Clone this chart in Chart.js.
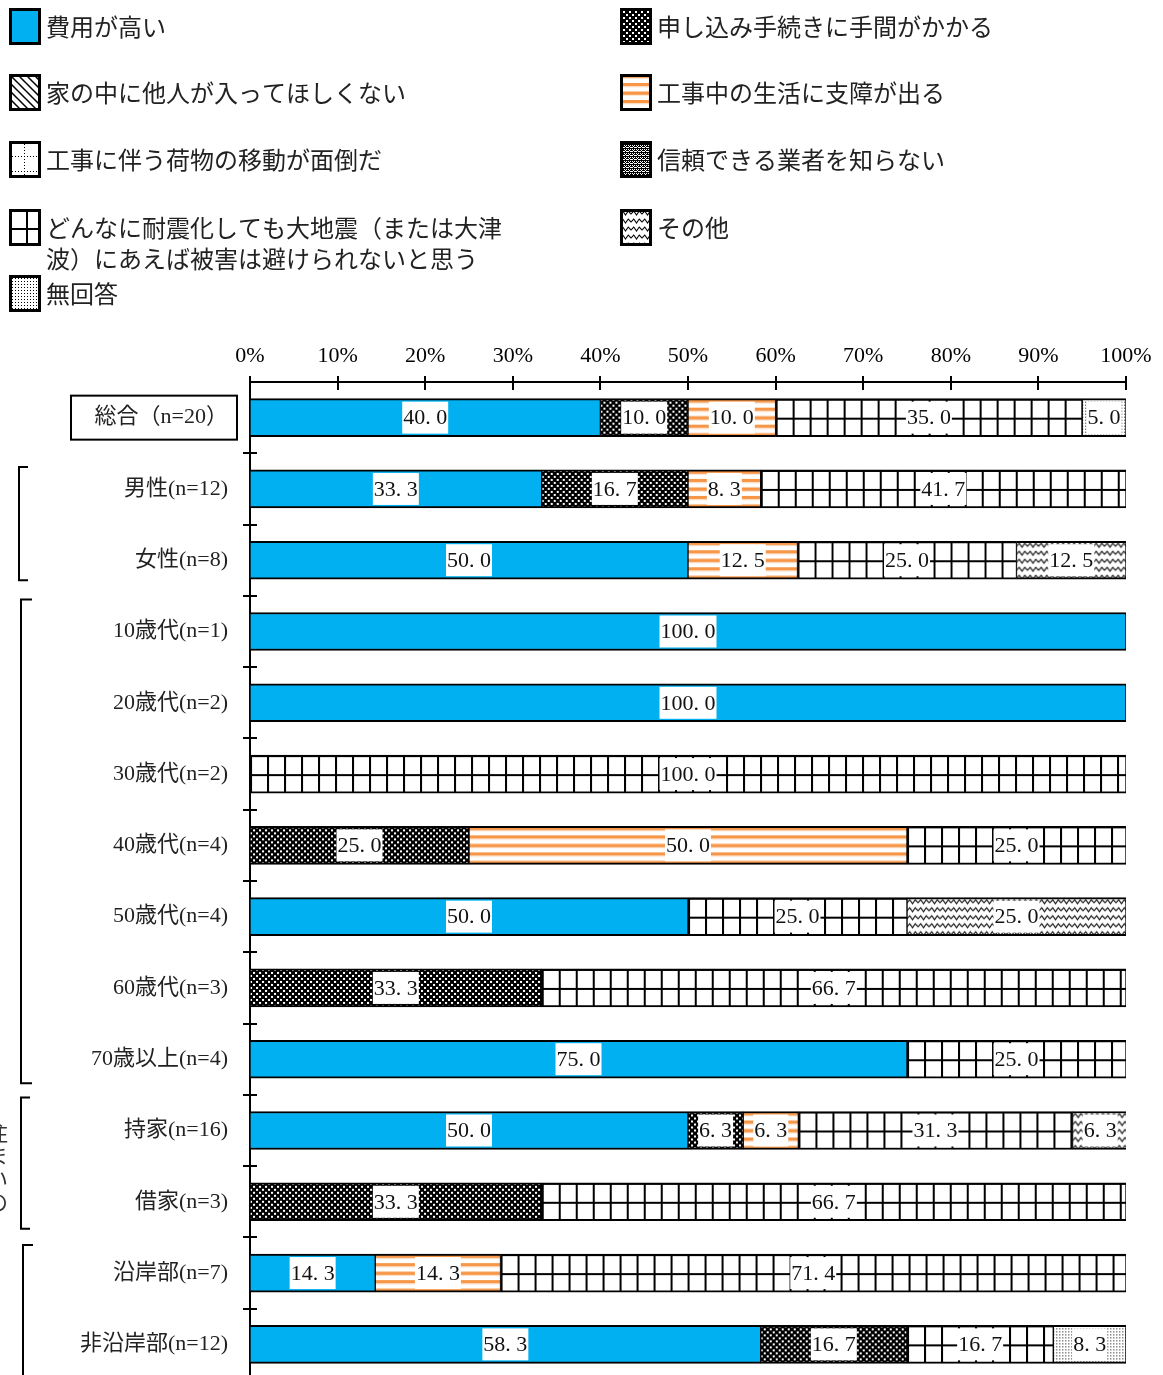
<!DOCTYPE html>
<html lang="ja">
<head>
<meta charset="utf-8">
<title>耐震化を行わない理由</title>
<script src="https://cdn.jsdelivr.net/npm/chart.js@4.4.1/dist/chart.umd.min.js"></script>
<style>
  html, body { margin: 0; padding: 0; background: #fff; overflow: hidden; }
</style>
</head>
<body>
<canvas id="chart" width="1163" height="1381"></canvas>
<script>
// Categories (rows, top to bottom)
const categories = ['総合（n=20）', '男性(n=12)', '女性(n=8)', '10歳代(n=1)', '20歳代(n=2)', '30歳代(n=2)',
  '40歳代(n=4)', '50歳代(n=4)', '60歳代(n=3)', '70歳以上(n=4)', '持家(n=16)', '借家(n=3)',
  '沿岸部(n=7)', '非沿岸部(n=12)'];

const seriesNames = ['費用が高い', '申し込み手続きに手間がかかる', '家の中に他人が入ってほしくない',
  '工事中の生活に支障が出る', '工事に伴う荷物の移動が面倒だ', '信頼できる業者を知らない',
  'どんなに耐震化しても大地震（または大津波）にあえば被害は避けられないと思う', 'その他', '無回答'];

// Values in % per category
const highCost        = [40.0, 33.3, 50.0, 100.0, 100.0, 0, 0, 50.0, 0, 75.0, 50.0, 0, 14.3, 58.3];
const troublesome     = [10.0, 16.7, 0, 0, 0, 0, 25.0, 0, 33.3, 0, 6.3, 33.3, 0, 16.7];
const noStrangers     = [0, 0, 0, 0, 0, 0, 0, 0, 0, 0, 0, 0, 0, 0];
const lifeDisruption  = [10.0, 8.3, 12.5, 0, 0, 0, 50.0, 0, 0, 0, 6.3, 0, 14.3, 0];
const movingStuff     = [0, 0, 0, 0, 0, 0, 0, 0, 0, 0, 0, 0, 0, 0];
const noContractor    = [0, 0, 0, 0, 0, 0, 0, 0, 0, 0, 0, 0, 0, 0];
const unavoidable     = [35.0, 41.7, 25.0, 0, 0, 100.0, 25.0, 25.0, 66.7, 25.0, 31.3, 66.7, 71.4, 16.7];
const other           = [0, 0, 12.5, 0, 0, 0, 0, 25.0, 0, 0, 6.3, 0, 0, 0];
const noAnswer        = [5.0, 0, 0, 0, 0, 0, 0, 0, 0, 0, 0, 0, 0, 8.3];

const xTicks = [0, 10, 20, 30, 40, 50, 60, 70, 80, 90, 100];

// category groups shown with brackets on the left: [first, last]
const groups = [[1, 2], [3, 9], [10, 11], [12, 13]];

const allSeries = [highCost, troublesome, noStrangers, lifeDisruption, movingStuff,
  noContractor, unavoidable, other, noAnswer];

const BLUE = '#00B0F0';
const ORANGE = '#F79646';
const BAR = 38;
const FONT = '"Liberation Serif", "Noto Sans CJK JP", serif';

// pattern tiles
function tile(w, h, draw) {
  const c = document.createElement('canvas');
  c.width = w; c.height = h;
  const g = c.getContext('2d');
  g.fillStyle = '#fff';
  g.fillRect(0, 0, w, h);
  draw(g);
  return c;
}

const tiles = [
  null,
  // 申し込み: black with white specks
  tile(6, 6, g => {
    g.fillStyle = '#000'; g.fillRect(0, 0, 6, 6);
    g.fillStyle = '#fff';
    g.fillRect(0, 0, 2, 2);
    g.fillRect(3, 3, 2, 2);
  }),
  // 家の中: diagonal lines
  tile(8, 8, g => {
    g.strokeStyle = '#000'; g.lineWidth = 1.5;
    g.beginPath();
    for (let o = -8; o <= 8; o += 8) { g.moveTo(o - 1, -1); g.lineTo(o + 9, 9); }
    g.stroke();
  }),
  // 工事中: orange stripes
  tile(4, 17, g => {
    g.fillStyle = ORANGE;
    g.fillRect(0, 0.5, 4, 3.4);
    g.fillRect(0, 9, 4, 3.4);
    g.fillStyle = '#FCE4D0';
    g.fillRect(0, 3.9, 4, 1);
    g.fillRect(0, 12.4, 4, 1);
  }),
  // 荷物の移動: dotted grid
  tile(15, 15, g => {
    g.fillStyle = '#000';
    for (let i = 0; i < 15; i += 3) { g.fillRect(0, i, 1, 1); g.fillRect(i, 0, 1, 1); }
  }),
  // 信頼: checker
  tile(4, 4, g => {
    g.fillStyle = '#000'; g.fillRect(0, 0, 4, 4);
    g.fillStyle = '#fff';
    [[0, 0], [2, 0], [1, 1], [3, 2], [0, 2], [2, 2]].forEach(([x, y]) => g.fillRect(x, y, 1, 1));
  }),
  // どんなに: grid
  tile(17, 19, g => {
    g.fillStyle = '#000';
    g.fillRect(0, 0, 2, 19);
    g.fillRect(0, 0, 17, 2);
  }),
  // その他: waves
  tile(11, 8, g => {
    g.strokeStyle = '#000'; g.lineWidth = 1.1;
    g.beginPath();
    g.moveTo(-1, 6); g.lineTo(2.75, 2); g.lineTo(5.5, 6); g.lineTo(8.25, 2); g.lineTo(12, 6);
    g.stroke();
  }),
  // 無回答: dots
  tile(3, 3, g => {
    g.fillStyle = '#000'; g.fillRect(0, 0, 1, 1);
  })
];

function fillAt(ctx, k, x, y) {
  if (!tiles[k]) return BLUE;
  const p = ctx.createPattern(tiles[k], 'repeat');
  p.setTransform(new DOMMatrix().translate(x, y));
  return p;
}

// value labels with white boxes
const labelPlugin = {
  id: 'segmentLabels',
  afterDatasetsDraw(chart) {
    const ctx = chart.ctx;
    ctx.save();
    ctx.font = '22px ' + FONT;
    ctx.textAlign = 'center';
    ctx.textBaseline = 'middle';
    chart.data.datasets.forEach((ds, di) => {
      chart.getDatasetMeta(di).data.forEach((bar, i) => {
        const v = allSeries[di][i];
        if (!v) return;
        const text = v.toFixed(1).replace('.', '. ');
        const w = ctx.measureText(text).width + 2;
        const cx = (bar.x + bar.base) / 2;
        ctx.fillStyle = '#fff';
        ctx.fillRect(cx - w / 2, bar.y - 16, w, 32);
        ctx.fillStyle = '#111';
        ctx.fillText(text, cx, bar.y + 1);
      });
    });
    ctx.restore();
  }
};

// crossing tick marks, brackets, boxed first label
const axisPlugin = {
  id: 'axisMarks',
  afterDraw(chart) {
    const { ctx, chartArea: a, scales: { x, y } } = chart;
    ctx.save();
    ctx.strokeStyle = '#000';
    ctx.lineWidth = 2;
    ctx.beginPath();
    xTicks.forEach(v => {
      const px = Math.round(x.getPixelForValue(v));
      ctx.moveTo(px, a.top - 6); ctx.lineTo(px, a.top + 8);
    });
    for (let i = 1; i < categories.length; i++) {
      const py = Math.round((y.getPixelForValue(i - 1) + y.getPixelForValue(i)) / 2);
      ctx.moveTo(a.left - 7, py); ctx.lineTo(a.left + 7, py);
    }
    ctx.stroke();

    // box around 総合
    const c0 = y.getPixelForValue(0);
    ctx.strokeRect(71, c0 - 22, 166, 44);

    // group brackets
    const br = [
      { x: 19, arm: 9, top: -22, bottom: 20 },
      { x: 21, arm: 11, top: -32, bottom: 24 },
      { x: 21, arm: 9, top: -33, bottom: 27 },
      { x: 23, arm: 10, top: -28, bottom: 60 }
    ];
    groups.forEach(([f, l], gi) => {
      const s = br[gi];
      const t = y.getPixelForValue(f) + s.top;
      const b = y.getPixelForValue(l) + s.bottom;
      ctx.beginPath();
      ctx.moveTo(s.x + s.arm, t); ctx.lineTo(s.x, t); ctx.lineTo(s.x, b); ctx.lineTo(s.x + s.arm, b);
      ctx.stroke();
    });

    // vertical group caption, mostly outside the picture
    ctx.fillStyle = '#333';
    ctx.font = '22px "Noto Sans CJK JP"';
    ctx.textAlign = 'center';
    ctx.textBaseline = 'middle';
    const mid = (y.getPixelForValue(10) + y.getPixelForValue(11)) / 2;
    Array.from('住まいの').forEach((ch, j) => ctx.fillText(ch, -3, mid - 34 + j * 23));
    ctx.restore();
  }
};

function wrap(ctx, text, maxW) {
  const lines = [];
  let cur = '';
  for (const ch of text) {
    if (ctx.measureText(cur + ch).width > maxW && cur) { lines.push(cur); cur = ch; }
    else cur += ch;
  }
  lines.push(cur);
  return lines;
}

const legendPlugin = {
  id: 'patternLegend',
  afterDraw(chart) {
    const ctx = chart.ctx;
    const rows = [8, 74, 141, 209, 275];
    ctx.save();
    ctx.font = '24px "Noto Sans CJK JP"';
    ctx.textBaseline = 'middle';
    seriesNames.forEach((name, k) => {
      const bx = k % 2 ? 620 : 9;
      const by = rows[Math.floor(k / 2)];
      ctx.fillStyle = fillAt(ctx, k, bx, by);
      ctx.fillRect(bx, by, 32, 37);
      ctx.lineWidth = 3;
      ctx.strokeStyle = '#000';
      ctx.strokeRect(bx + 1.5, by + 1.5, 29, 34);
      ctx.fillStyle = '#222';
      wrap(ctx, name, 460).forEach((ln, j) => ctx.fillText(ln, bx + 37, by + 19 + j * 31));
    });
    ctx.restore();
  }
};

new Chart(document.getElementById('chart'), {
  type: 'bar',
  data: {
    labels: categories,
    datasets: seriesNames.map((name, k) => ({
      label: name,
      data: allSeries[k].map(v => v || null),
      backgroundColor: c => {
        const ch = c.chart;
        if (c.type !== 'data' || !ch.scales.x) return fillAt(ch.ctx, k, 0, 0);
        const i = c.dataIndex;
        let start = 0;
        for (let j = 0; j < k; j++) start += allSeries[j][i];
        return fillAt(ch.ctx, k, ch.scales.x.getPixelForValue(start), ch.scales.y.getPixelForValue(i) - BAR / 2);
      },
      borderColor: '#000',
      borderWidth: { top: 2, bottom: 2, left: 1, right: 1 },
      borderSkipped: false,
      barThickness: BAR
    }))
  },
  options: {
    indexAxis: 'y',
    responsive: false,
    animation: false,
    events: [],
    layout: { padding: { left: 0, right: 37, top: 0, bottom: 1 } },
    plugins: { legend: { display: false }, tooltip: { enabled: false } },
    scales: {
      x: {
        position: 'top',
        stacked: true,
        min: 0,
        max: 100,
        afterBuildTicks: s => { s.ticks = xTicks.map(v => ({ value: v })); },
        ticks: { callback: v => v + '%', color: '#000', font: { family: FONT, size: 22 }, padding: 5, maxRotation: 0 },
        grid: { display: false },
        border: { color: '#000', width: 2 },
        afterFit: s => { s.height = 382; }
      },
      y: {
        stacked: true,
        ticks: { color: '#222', font: { family: FONT, size: 22 }, padding: 14 },
        grid: { display: false },
        border: { color: '#000', width: 2 },
        afterFit: s => { s.width = 250; s.paddingTop = 0; s.paddingBottom = 0; }
      }
    }
  },
  plugins: [labelPlugin, axisPlugin, legendPlugin]
});
</script>
</body>
</html>
